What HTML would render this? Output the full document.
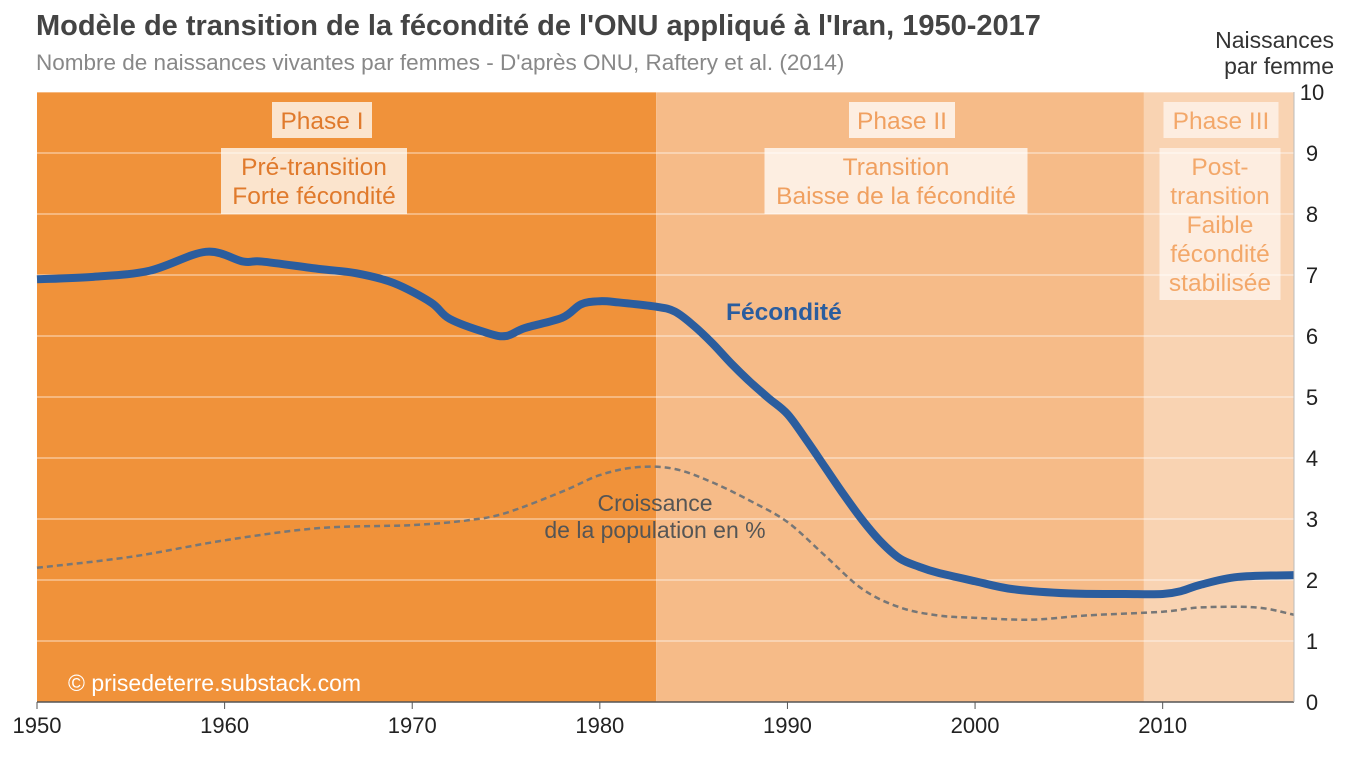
<!DOCTYPE html>
<html><head><meta charset="utf-8"><style>
body{margin:0;background:#fff;width:1349px;height:757px;overflow:hidden;font-family:"Liberation Sans",sans-serif}
svg{display:block}
</style></head><body>
<svg id="chart" width="1349" height="757" font-family="Liberation Sans, sans-serif">
<text x="36" y="35" font-size="29" font-weight="bold" fill="#444">Modèle de transition de la fécondité de l'ONU appliqué à l'Iran, 1950-2017</text>
<text x="36" y="70" font-size="22.5" fill="#888">Nombre de naissances vivantes par femmes - D'après ONU, Raftery et al. (2014)</text>
<text x="1334" y="48" font-size="23" fill="#333" text-anchor="end">Naissances</text>
<text x="1334" y="74" font-size="23" fill="#333" text-anchor="end">par femme</text>
<g id="bg"></g>
<g id="grid"></g>
<g id="labels"></g>
<g id="series"></g>
<g id="axes"></g>
</svg>
<script>
const years=[1950,1953,1956,1959,1961,1962,1965,1967,1969,1971,1972,1974,1975,1976,1978,1979,1980,1981,1983,1984,1985,1986,1987,1988,1989,1990,1991,1992,1993,1994,1995,1996,1997,1998,2000,2002,2005,2008,2010,2011,2012,2014,2017];
const fertility=[6.93,6.97,7.07,7.38,7.22,7.22,7.1,7.03,6.87,6.55,6.28,6.05,6.0,6.13,6.3,6.52,6.57,6.55,6.48,6.40,6.17,5.88,5.55,5.25,4.98,4.72,4.3,3.85,3.4,2.98,2.62,2.35,2.22,2.12,1.98,1.85,1.78,1.77,1.77,1.82,1.92,2.05,2.08];
const growthYears=[1950,1955,1960,1965,1970,1973,1975,1978,1980,1982,1984,1986,1988,1990,1992,1994,1996,1998,2000,2003,2006,2010,2012,2015,2017];
const growth=[2.2,2.38,2.65,2.85,2.9,2.98,3.1,3.45,3.72,3.85,3.82,3.6,3.3,2.95,2.4,1.85,1.55,1.42,1.38,1.35,1.42,1.48,1.55,1.55,1.43];
const yTicks=[0,1,2,3,4,5,6,7,8,9,10];
const xTicks=[1950,1960,1970,1980,1990,2000,2010];
const phaseBounds=[1950,1983,2009,2017];
const NS='http://www.w3.org/2000/svg';
const X0=37,X1=1294,Y0=702,Y1=92;
const xs=y=>X0+(y-1950)*(X1-X0)/67;
const ys=v=>Y0-v*(Y0-Y1)/10;
function mk(tag,at,parent,txt){const e=document.createElementNS(NS,tag);for(const k in at)e.setAttribute(k,at[k]);if(txt!=null)e.textContent=txt;document.getElementById(parent).appendChild(e);return e;}
const phaseColors=['#f0923a','#f6bb88','#f9d3b2'];
for(let i=0;i<3;i++){
 const r=mk('rect',{x:xs(phaseBounds[i]),y:Y1,width:xs(phaseBounds[i+1])-xs(phaseBounds[i]),height:Y0-Y1,fill:phaseColors[i]},'bg');
 
 
}
yTicks.forEach(t=>{
 if(t>0){const l=mk('line',{x1:X0,x2:X1,y1:ys(t),y2:ys(t),stroke:'#fff','stroke-opacity':0.7,'stroke-width':1},'grid');
 
 }
 const tx=mk('text',{x:1312,y:ys(t)+8,'font-size':22,fill:'#222','text-anchor':'middle'},'axes',String(t));
 
 
});
xTicks.forEach(t=>{
 const l=mk('line',{x1:xs(t),x2:xs(t),y1:Y0,y2:Y0+7,stroke:'#555'},'axes');
 
 
 const tx=mk('text',{x:xs(t),y:Y0+31,'font-size':22,fill:'#222','text-anchor':'middle'},'axes',String(t));
 
 
});
const ax=mk('line',{x1:X0,x2:X1,y1:Y0,y2:Y0,stroke:'#555','stroke-width':1.5},'axes');


const ay=mk('line',{x1:X1,x2:X1,y1:Y1,y2:Y0,stroke:'#bbb','stroke-width':1},'axes');


function boxLabel(name,cx,top,w,h,lines,color,fillOp,lh){
 const r=mk('rect',{x:cx-w/2,y:top,width:w,height:h,fill:'#fff','fill-opacity':fillOp},'labels');
 
 
 const t=mk('text',{x:cx,y:top,'font-size':24.5,fill:color,'text-anchor':'middle'},'labels');
 
 
 lines.forEach((s,i)=>{const ts=document.createElementNS(NS,'tspan');ts.setAttribute('x',cx);ts.setAttribute('y',top+27+i*lh);ts.textContent=s;t.appendChild(ts);});
}
boxLabel('phase-1-label',322,102,100,36,['Phase I'],'#e07a2c',0.75,29);
boxLabel('phase-1-desc',314,148,186,66,['Pré-transition','Forte fécondité'],'#e07a2c',0.75,29);
boxLabel('phase-2-label',902,102,106,36,['Phase II'],'#f0a060',0.75,29);
boxLabel('phase-2-desc',896,148,263,66,['Transition','Baisse de la fécondité'],'#f0a060',0.75,29);
boxLabel('phase-3-label',1221,102,115,36,['Phase III'],'#f3a86a',0.6,29);
boxLabel('phase-3-desc',1220,148,121,152,['Post-','transition','Faible','fécondité','stabilisée'],'#f3a86a',0.6,29);
function path(xv,yv){
 const p=xv.map((x,i)=>[xs(x),ys(yv[i])]);
 let d='M'+p[0][0]+','+p[0][1];
 for(let i=0;i<p.length-1;i++){
  const p0=p[i-1]||p[i],p1=p[i],p2=p[i+1],p3=p[i+2]||p2;
  const c1=[p1[0]+(p2[0]-p0[0])/6,p1[1]+(p2[1]-p0[1])/6],c2=[p2[0]-(p3[0]-p1[0])/6,p2[1]-(p3[1]-p1[1])/6];
  d+=`C${c1[0]},${c1[1]} ${c2[0]},${c2[1]} ${p2[0]},${p2[1]}`;
 }
 return d;
}
const g=mk('path',{d:path(growthYears,growth),fill:'none',stroke:'#777','stroke-width':2.5,'stroke-dasharray':'6,4'},'series');


const f=mk('path',{d:path(years,fertility),fill:'none',stroke:'#2b5d9e','stroke-width':8,'stroke-linejoin':'round','stroke-linecap':'butt'},'series');


const fl=mk('text',{x:726,y:320,'font-size':24.5,'font-weight':'bold',fill:'#2b5d9e'},'series','Fécondité');


const gl=mk('text',{x:655,y:511,'font-size':23,fill:'#555','text-anchor':'middle'},'series','Croissance');


const gl2=mk('text',{x:655,y:538,'font-size':23,fill:'#555','text-anchor':'middle'},'series','de la population  en %');


const cp=mk('text',{x:68,y:691,'font-size':23,fill:'#fff'},'series','© prisedeterre.substack.com');


</script>
</body></html>
